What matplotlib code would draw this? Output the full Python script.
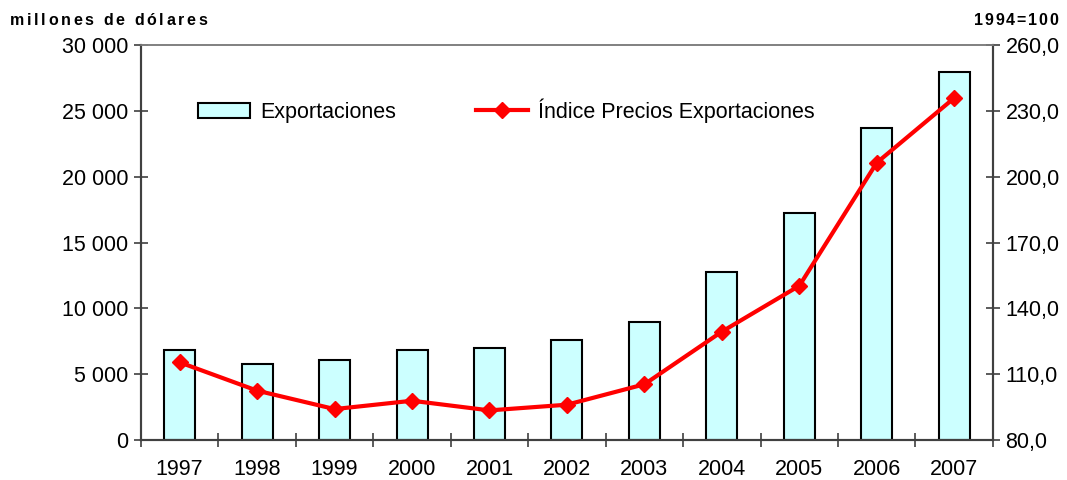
import matplotlib
matplotlib.use("Agg")
import matplotlib.pyplot as plt
from matplotlib.ticker import FuncFormatter, FixedLocator

years = ["1997", "1998", "1999", "2000", "2001", "2002", "2003", "2004", "2005", "2006", "2007"]
exportaciones = [6830, 5800, 6100, 6830, 6990, 7620, 8990, 12780, 17260, 23700, 27950]
indice_precios = [115.4, 102.5, 94.1, 97.9, 93.5, 96.1, 105.4, 129.4, 150.3, 206.4, 235.9]

plt.rcParams['font.family'] = ['Liberation Sans', 'DejaVu Sans']
FS = 15.5

fig = plt.figure(figsize=(10.67, 4.8), dpi=100)
ax = fig.add_axes([0.1321, 0.0833, 0.7985, 0.8227])
x = list(range(len(years)))

ax.bar(x, exportaciones, width=0.4, color='#ccffff', edgecolor='black', linewidth=1.5,
       label='Exportaciones', zorder=2)
ax.set_xlim(-0.5, len(years) - 0.5)
ax.set_ylim(0, 30000)
ax.set_yticks(range(0, 30001, 5000))
ax.yaxis.set_major_formatter(FuncFormatter(lambda v, p: f"{int(v):,}".replace(",", " ")))
ax.set_xticks(x)
ax.set_xticklabels(years)
ax.xaxis.set_minor_locator(FixedLocator([i + 0.5 for i in range(-1, len(years))]))
ax.tick_params(axis='x', which='major', length=0, labelsize=FS, pad=14)
ax.tick_params(axis='x', which='minor', length=10, direction='inout', color='#404040', width=1.2)
ax.tick_params(axis='y', length=10, direction='inout', labelsize=FS, color='#404040', width=1.2, pad=4)

ax2 = ax.twinx()
ax2.plot(x, indice_precios, color='red', linewidth=3, marker='D', markersize=8,
         label='Índice Precios Exportaciones', zorder=3)
ax2.set_ylim(80, 260)
ax2.set_yticks(range(80, 261, 30))
ax2.yaxis.set_major_formatter(FuncFormatter(lambda v, p: f"{v:.1f}".replace(".", ",")))
ax2.tick_params(axis='y', length=10, direction='inout', labelsize=FS, color='#404040', width=1.2, pad=4)

for a in (ax, ax2):
    for s in ('left', 'right', 'bottom'):
        a.spines[s].set_color('#404040')
        a.spines[s].set_linewidth(1.5)
    a.spines['top'].set_color('#808080')
    a.spines['top'].set_linewidth(1.2)

h1, l1 = ax.get_legend_handles_labels()
h2, l2 = ax2.get_legend_handles_labels()
ax2.legend(h1 + h2, l1 + l2, loc='upper left', bbox_to_anchor=(0.067, 0.865), ncol=2,
           frameon=False, fontsize=FS, columnspacing=3.7, handlelength=2.4, handletextpad=0.5,
           borderpad=0, borderaxespad=0)


def tracked_text(s, x0_px, y_px, target_w, align='left', size=11.5):
    renderer = fig.canvas.get_renderer()
    widths = []
    for ch in s:
        t = fig.text(0, 0, ch, fontsize=size, fontweight='bold')
        widths.append(t.get_window_extent(renderer).width if ch != ' ' else None)
        t.remove()
    space_w = size * 100 / 72 * 0.278
    widths = [w if w is not None else space_w for w in widths]
    base = sum(widths)
    gap = (target_w - base) / (len(s) - 1)
    x = x0_px if align == 'left' else x0_px - target_w
    H = fig.get_figheight() * fig.dpi
    W = fig.get_figwidth() * fig.dpi
    for ch, w in zip(s, widths):
        if ch != ' ':
            fig.text(x / W, 1 - y_px / H, ch, fontsize=size, fontweight='bold',
                     ha='left', va='baseline')
        x += w + gap


fig.canvas.draw()
tracked_text("millones de dólares", 10, 25, 197, 'left')
tracked_text("1994=100", 1058, 25, 84, 'right')

fig.savefig("out.png", dpi=100)
